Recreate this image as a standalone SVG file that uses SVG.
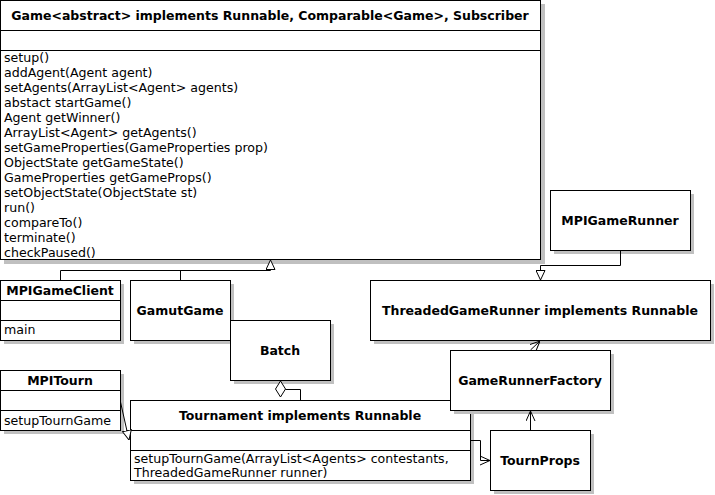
<svg xmlns="http://www.w3.org/2000/svg" width="715" height="495" viewBox="0 0 715 495">
<style>
.sh{fill:#c0c0c0}
.bx{fill:#fff;stroke:#000;stroke-width:1}
.sep{stroke:#000;stroke-width:1}
.t{font-family:"DejaVu Sans",Verdana,sans-serif;font-size:12.5px;font-weight:bold;fill:#000;text-anchor:middle}
.m{font-family:"DejaVu Sans",Verdana,sans-serif;font-size:12.6px;fill:#000}
.c{fill:none;stroke:#000;stroke-width:1}
</style>
<defs>
<marker id="tri" viewBox="0 0 10 10" refX="10" refY="5" markerWidth="10" markerHeight="10" markerUnits="userSpaceOnUse" orient="auto">
<path d="M0.5,0.5 L10,5 L0.5,9.5 z" fill="#fff" stroke="#000" stroke-width="1"/>
</marker>
<marker id="vee" viewBox="0 0 10 10" refX="10" refY="5" markerWidth="10" markerHeight="10" markerUnits="userSpaceOnUse" orient="auto">
<path d="M0,0.5 L10,5 L0,9.5" fill="none" stroke="#000" stroke-width="1"/>
</marker>
</defs>

<g id="Game">
<rect class="sh" x="4" y="4" width="541" height="260"/>
<rect class="bx" x="0.5" y="0.5" width="540" height="259"/>
<line class="sep" x1="0" y1="30.5" x2="541" y2="30.5"/>
<line class="sep" x1="0" y1="50.5" x2="541" y2="50.5"/>
<text class="t" x="270" y="20">Game&lt;abstract&gt; implements Runnable, Comparable&lt;Game&gt;, Subscriber</text>
<text class="m" x="4" y="62">setup()</text>
<text class="m" x="4" y="77">addAgent(Agent agent)</text>
<text class="m" x="4" y="92">setAgents(ArrayList&lt;Agent&gt; agents)</text>
<text class="m" x="4" y="107">abstact startGame()</text>
<text class="m" x="4" y="122">Agent getWinner()</text>
<text class="m" x="4" y="137">ArrayList&lt;Agent&gt; getAgents()</text>
<text class="m" x="4" y="152">setGameProperties(GameProperties prop)</text>
<text class="m" x="4" y="167">ObjectState getGameState()</text>
<text class="m" x="4" y="182">GameProperties getGameProps()</text>
<text class="m" x="4" y="197">setObjectState(ObjectState st)</text>
<text class="m" x="4" y="212">run()</text>
<text class="m" x="4" y="227">compareTo()</text>
<text class="m" x="4" y="242">terminate()</text>
<text class="m" x="4" y="257">checkPaused()</text>
</g>

<g id="MPIGameClient">
<rect class="sh" x="4" y="284" width="120" height="60"/>
<rect class="bx" x="0.5" y="280.5" width="120" height="60"/>
<line class="sep" x1="0" y1="300.5" x2="121" y2="300.5"/>
<line class="sep" x1="0" y1="320.5" x2="121" y2="320.5"/>
<text class="t" x="60" y="295">MPIGameClient</text>
<text class="m" x="4" y="334">main</text>
</g>

<g id="GamutGame">
<rect class="sh" x="134" y="284" width="100" height="60"/>
<rect class="bx" x="130.5" y="280.5" width="100" height="60"/>
<text class="t" x="180" y="315">GamutGame</text>
</g>

<g id="Batch">
<rect class="sh" x="234" y="324" width="100" height="60"/>
<rect class="bx" x="230.5" y="320.5" width="100" height="60"/>
<text class="t" x="280" y="355">Batch</text>
</g>

<g id="MPITourn">
<rect class="sh" x="4" y="374" width="120" height="60"/>
<rect class="bx" x="0.5" y="370.5" width="120" height="60"/>
<line class="sep" x1="0" y1="390.5" x2="121" y2="390.5"/>
<line class="sep" x1="0" y1="410.5" x2="121" y2="410.5"/>
<text class="t" x="60" y="385">MPITourn</text>
<text class="m" x="4" y="425">setupTournGame</text>
</g>

<g id="Tournament">
<rect class="sh" x="134" y="404" width="340" height="80"/>
<rect class="bx" x="130.5" y="400.5" width="340" height="80"/>
<line class="sep" x1="130" y1="430.5" x2="471" y2="430.5"/>
<line class="sep" x1="130" y1="450.5" x2="471" y2="450.5"/>
<text class="t" x="300" y="420">Tournament implements Runnable</text>
<text class="m" x="134" y="463">setupTournGame(ArrayList&lt;Agents&gt; contestants,</text>
<text class="m" x="134" y="477">ThreadedGameRunner runner)</text>
</g>

<g id="MPIGameRunner">
<rect class="sh" x="554" y="194" width="140" height="60"/>
<rect class="bx" x="550.5" y="190.5" width="140" height="60"/>
<text class="t" x="620" y="225">MPIGameRunner</text>
</g>

<g id="ThreadedGameRunner">
<rect class="sh" x="374" y="284" width="340" height="60"/>
<rect class="bx" x="370.5" y="280.5" width="340" height="60"/>
<text class="t" x="540" y="315">ThreadedGameRunner implements Runnable</text>
</g>

<g id="GameRunnerFactory">
<rect class="sh" x="454" y="354" width="160" height="60"/>
<rect class="bx" x="450.5" y="350.5" width="160" height="60"/>
<text class="t" x="530" y="385">GameRunnerFactory</text>
</g>

<g id="TournProps">
<rect class="sh" x="494" y="434" width="100" height="60"/>
<rect class="bx" x="490.5" y="430.5" width="100" height="60"/>
<text class="t" x="540" y="465">TournProps</text>
</g>

<g id="connectors">
<polyline class="c" points="60.5,280 60.5,270.5 270.5,270.5 270.5,260" marker-end="url(#tri)"/>
<line class="c" x1="180.5" y1="280" x2="180.5" y2="270.5"/>
<polyline class="c" points="620.5,251 620.5,265.5 540.5,265.5 540.5,280" marker-end="url(#tri)"/>
<line class="c" x1="530.5" y1="350" x2="540" y2="341" marker-end="url(#vee)"/>
<line class="c" x1="530.5" y1="430" x2="530.5" y2="411" marker-end="url(#vee)"/>
<polyline class="c" points="471,440.5 480.5,440.5 480.5,460.5 490,460.5" marker-end="url(#vee)"/>
<line class="c" x1="120.5" y1="402" x2="129" y2="440" marker-end="url(#tri)"/>
<polygon points="280.5,381 285.5,389 280.5,397 275.5,389" fill="#fff" stroke="#000" stroke-width="1"/>
<polyline class="c" points="285.5,389.5 300.5,389.5 300.5,400"/>
</g>
</svg>
